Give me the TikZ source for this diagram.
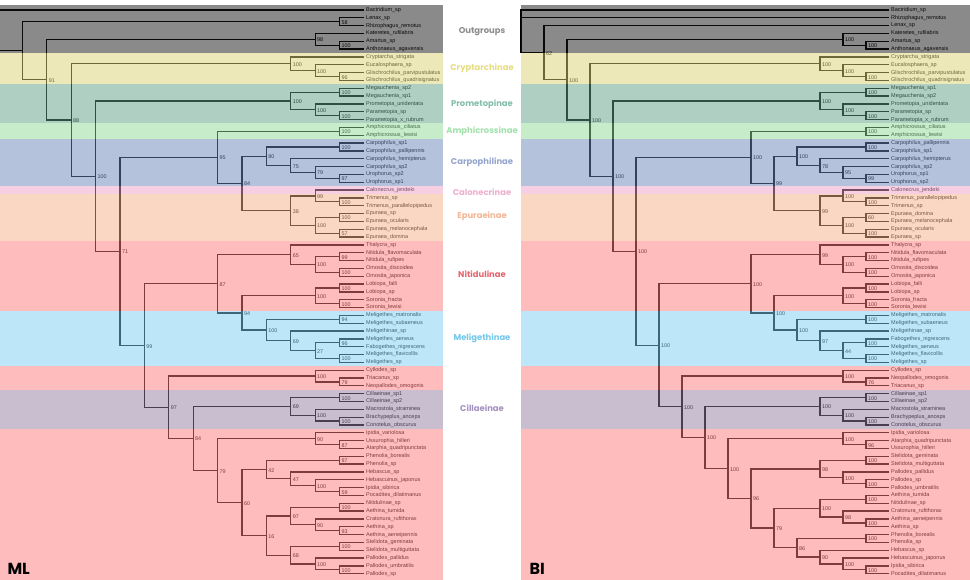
\documentclass[tikz,border=0pt]{standalone}
\usepackage{fontspec}
\setmainfont{Liberation Sans}
\newfontfamily\headfont{Poppins}
\usetikzlibrary{calc}
\definecolor{bdout}{RGB}{21,21,21}
\definecolor{bdcry}{RGB}{217,209,113}
\definecolor{bdpro}{RGB}{97,159,135}
\definecolor{bdamp}{RGB}{143,217,147}
\definecolor{bdcar}{RGB}{105,133,183}
\definecolor{bdcal}{RGB}{237,159,199}
\definecolor{bdepu}{RGB}{245,175,135}
\definecolor{bdnit}{RGB}{255,121,121}
\definecolor{bdmel}{RGB}{123,207,241}
\definecolor{bdcil}{RGB}{147,123,161}
\definecolor{lbout}{RGB}{140,140,140}
\definecolor{lbcry}{RGB}{230,220,128}
\definecolor{lbpro}{RGB}{130,190,170}
\definecolor{lbamp}{RGB}{160,225,170}
\definecolor{lbcar}{RGB}{150,165,205}
\definecolor{lbcal}{RGB}{238,175,205}
\definecolor{lbepu}{RGB}{242,182,150}
\definecolor{lbnit}{RGB}{230,100,110}
\definecolor{lbmel}{RGB}{115,200,235}
\definecolor{lbcil}{RGB}{165,145,192}
\tikzset{
  tip/.style={anchor=west, inner xsep=2pt, inner ysep=0pt,
              font=\fontsize{5.5}{6}\selectfont},
  support/.style={anchor=west, inner xsep=1.8pt, inner ysep=0pt, yshift=-0.6pt,
                  font=\fontsize{5.4}{6}\selectfont},
  branch/.style={line width=1.3pt},
  grouplbl/.style={font=\headfont\bfseries\fontsize{8.4}{9}\selectfont},
  panel/.style={anchor=west, font=\headfont\bfseries\fontsize{16}{18}\selectfont},
}
\newcommand{\treex}{364}
\newcommand{\treestep}{24.4}
\newcommand{\clade}[5]{%
  \path let \p1=(#3), \p2=(#4) in
    coordinate (#1) at ({(\treex-#2*\treestep)*1pt},{0.5*(\y1+\y2)});
  \draw[branch] (#3) -| (#1) |- (#4);
  \node[support] at (#1) {#5};
}
\newcommand{\band}[3]{%
  \fill[#1, opacity=0.5] (0,#2) rectangle (443,#3);
  \fill[#1, opacity=0.5] (521,#2) rectangle (970,#3);
}
\begin{document}
\begin{tikzpicture}[x=1pt, y=-1pt]
\useasboundingbox (0,0) rectangle (970,580);
\clip (0,0) rectangle (970,580);

% ML tree
\foreach \nm [count=\i] in {Bactridium\_sp, Lenax\_sp, Rhizophagus\_remotus,
  Kateretes\_rufilabris, Amartus\_sp, Anthonaeus\_agavensis, Cryptarcha\_strigata,
  Eucalosphaera\_sp, Glischrochilus\_parvipustulatus, Glischrochilus\_quadrisignatus,
  Megauchenia\_sp2, Megauchenia\_sp1, Prometopia\_unidentata, Parametopia\_sp,
  Parametopia\_x\_rubrum, Amphicrossus\_ciliatus, Amphicrossus\_lewisi,
  Carpophilus\_sp1, Carpophilus\_pallipennis, Carpophilus\_hemipterus,
  Carpophilus\_sp2, Urophorus\_sp2, Urophorus\_sp1, Calonecrus\_jendeki,
  Trimenus\_sp, Trimenus\_parallelopipedus, Epuraea\_sp, Epuraea\_ocularis,
  Epuraea\_melanocephala, Epuraea\_domina, Thalycra\_sp, Nitidula\_flavomaculata,
  Nitidula\_rufipes, Omosita\_discoidea, Omosita\_japonica, Lobiopa\_falli,
  Lobiopa\_sp, Soronia\_fracta, Soronia\_lewisi, Meligethes\_matronalis,
  Meligethes\_subaeneus, Meligethinae\_sp, Meligethes\_aeneus, Fabogethes\_nigrescens,
  Meligethes\_flavicollis, Meligethes\_sp, Cyllodes\_sp, Triacanus\_sp,
  Neopallodes\_omogonis, Cillaeinae\_sp1, Cillaeinae\_sp2, Macrostola\_straminea,
  Brachypeplus\_anceps, Conotelus\_obscurus, Ipidia\_variolosa, Ussurophia\_hilleri,
  Atarphia\_quadripunctata, Phenolia\_borealis, Phenolia\_sp, Hebascus\_sp,
  Hebascuinus\_japonus, Ipidia\_sibirica, Pocadites\_dilatimanus, Nitidulinae\_sp,
  Aethina\_tumida, Cratonura\_rufithorax, Aethina\_sp, Aethina\_aeneipennis,
  Stelidota\_geminata, Stelidota\_multiguttata, Pallodes\_pallidus,
  Pallodes\_umbratilis, Pallodes\_sp}
  \node[tip] (m\i) at (364,{10+(\i-1)*7.83}) {\nm};

\clade{mLen}{1}{m2.west}{m3.west}{58}
\clade{mAma}{1}{m5.west}{m6.west}{100}
\clade{mKat}{2}{m4.west}{mAma}{98}
\clade{mGli}{1}{m9.west}{m10.west}{96}
\clade{mEuc}{2}{m8.west}{mGli}{100}
\clade{mCry}{3}{m7.west}{mEuc}{100}
\clade{mMeg}{1}{m11.west}{m12.west}{100}
\clade{mPar}{1}{m14.west}{m15.west}{100}
\clade{mPrt}{2}{m13.west}{mPar}{100}
\clade{mPro}{3}{mMeg}{mPrt}{100}
\clade{mAmp}{1}{m16.west}{m17.west}{100}
\clade{mCar}{1}{m18.west}{m19.west}{100}
\clade{mUro}{1}{m22.west}{m23.west}{97}
\clade{mCsp}{2}{m21.west}{mUro}{79}
\clade{mChe}{3}{m20.west}{mCsp}{75}
\clade{mCpi}{4}{mCar}{mChe}{80}
\clade{mTri}{1}{m25.west}{m26.west}{100}
\clade{mCal}{2}{m24.west}{mTri}{99}
\clade{mEpa}{1}{m27.west}{m28.west}{100}
\clade{mEpb}{1}{m29.west}{m30.west}{57}
\clade{mEpu}{2}{mEpa}{mEpb}{100}
\clade{mCE}{3}{mCal}{mEpu}{38}
\clade{mH}{5}{mCpi}{mCE}{84}
\clade{mF}{6}{mAmp}{mH}{95}
\clade{mNit}{1}{m32.west}{m33.west}{99}
\clade{mOmo}{1}{m34.west}{m35.west}{100}
\clade{mNO}{2}{mNit}{mOmo}{100}
\clade{mTha}{3}{m31.west}{mNO}{65}
\clade{mLob}{1}{m36.west}{m37.west}{100}
\clade{mSor}{1}{m38.west}{m39.west}{100}
\clade{mLS}{2}{mLob}{mSor}{100}
\clade{mMma}{1}{m40.west}{m41.west}{94}
\clade{mMae}{1}{m43.west}{m44.west}{96}
\clade{mMfl}{1}{m45.west}{m46.west}{100}
\clade{mMaf}{2}{mMae}{mMfl}{27}
\clade{mMsp}{3}{m42.west}{mMaf}{69}
\clade{mMel}{4}{mMma}{mMsp}{100}
\clade{mM}{5}{mLS}{mMel}{94}
\clade{mK}{6}{mTha}{mM}{87}
\clade{mTrc}{1}{m48.west}{m49.west}{79}
\clade{mCyl}{2}{m47.west}{mTrc}{100}
\clade{mCil}{1}{m50.west}{m51.west}{100}
\clade{mBra}{1}{m53.west}{m54.west}{100}
\clade{mMac}{2}{m52.west}{mBra}{100}
\clade{mCll}{3}{mCil}{mMac}{69}
\clade{mUss}{1}{m56.west}{m57.west}{87}
\clade{mIpv}{2}{m55.west}{mUss}{90}
\clade{mPhe}{1}{m58.west}{m59.west}{97}
\clade{mIps}{1}{m62.west}{m63.west}{59}
\clade{mHja}{2}{m61.west}{mIps}{100}
\clade{mHeb}{3}{m60.west}{mHja}{47}
\clade{mQ}{4}{mPhe}{mHeb}{42}
\clade{mAet}{1}{m64.west}{m65.west}{100}
\clade{mAsp}{1}{m67.west}{m68.west}{93}
\clade{mCra}{2}{m66.west}{mAsp}{90}
\clade{mAcr}{3}{mAet}{mCra}{97}
\clade{mSte}{1}{m69.west}{m70.west}{100}
\clade{mPal}{1}{m72.west}{m73.west}{100}
\clade{mPpa}{2}{m71.west}{mPal}{100}
\clade{mSpa}{3}{mSte}{mPpa}{68}
\clade{mR}{4}{mAcr}{mSpa}{16}
\clade{mP}{5}{mQ}{mR}{60}
\clade{mO}{6}{mIpv}{mP}{79}
\clade{mN}{7}{mCll}{mO}{84}
\clade{mL}{8}{mCyl}{mN}{97}
\clade{mG}{9}{mK}{mL}{99}
\clade{mE}{10}{mF}{mG}{71}
\clade{mD}{11}{mPro}{mE}{100}
\clade{mC}{12}{mCry}{mD}{88}
\clade{mB}{13}{mKat}{mC}{91}
\clade{mA}{14}{mLen}{mB}{}
\clade{mRoot}{15}{m1.west}{mA}{}

% BI tree
\renewcommand{\treex}{889}
\renewcommand{\treestep}{23}
\foreach \nm [count=\i] in {Bactridium\_sp, Rhizophagus\_remotus, Lenax\_sp,
  Kateretes\_rufilabris, Amartus\_sp, Anthonaeus\_agavensis, Cryptarcha\_strigata,
  Eucalosphaera\_sp, Glischrochilus\_parvipustulatus, Glischrochilus\_quadrisignatus,
  Megauchenia\_sp1, Megauchenia\_sp2, Prometopia\_unidentata, Parametopia\_sp,
  Parametopia\_x\_rubrum, Amphicrossus\_ciliatus, Amphicrossus\_lewisi,
  Carpophilus\_pallipennis, Carpophilus\_sp1, Carpophilus\_hemipterus,
  Carpophilus\_sp2, Urophorus\_sp1, Urophorus\_sp2, Calonecrus\_jendeki,
  Trimenus\_parallelopipedus, Trimenus\_sp, Epuraea\_domina, Epuraea\_melanocephala,
  Epuraea\_ocularis, Epuraea\_sp, Thalycra\_sp, Nitidula\_flavomaculata,
  Nitidula\_rufipes, Omosita\_discoidea, Omosita\_japonica, Lobiopa\_falli,
  Lobiopa\_sp, Soronia\_fracta, Soronia\_lewisi, Meligethes\_matronalis,
  Meligethes\_subaeneus, Meligethinae\_sp, Fabogethes\_nigrescens, Meligethes\_aeneus,
  Meligethes\_flavicollis, Meligethes\_sp, Cyllodes\_sp, Neopallodes\_omogonis,
  Triacanus\_sp, Cillaeinae\_sp1, Cillaeinae\_sp2, Macrostola\_straminea,
  Brachypeplus\_anceps, Conotelus\_obscurus, Ipidia\_variolosa,
  Atarphia\_quadripunctata, Ussurophia\_hilleri, Stelidota\_geminata,
  Stelidota\_multiguttata, Pallodes\_pallidus, Pallodes\_sp, Pallodes\_umbratilis,
  Aethina\_tumida, Nitidulinae\_sp, Cratonura\_rufithorax, Aethina\_aeneipennis,
  Aethina\_sp, Phenolia\_borealis, Phenolia\_sp, Hebascus\_sp, Hebascuinus\_japonus,
  Ipidia\_sibirica, Pocadites\_dilatimanus}
  \node[tip] (b\i) at (889,{10+(\i-1)*7.83}) {\nm};

\clade{bAma}{1}{b5.west}{b6.west}{100}
\clade{bKat}{2}{b4.west}{bAma}{100}
\clade{bGli}{1}{b9.west}{b10.west}{100}
\clade{bEuc}{2}{b8.west}{bGli}{100}
\clade{bCry}{3}{b7.west}{bEuc}{100}
\clade{bMeg}{1}{b11.west}{b12.west}{100}
\clade{bPar}{1}{b14.west}{b15.west}{100}
\clade{bPrt}{2}{b13.west}{bPar}{100}
\clade{bPro}{3}{bMeg}{bPrt}{100}
\clade{bAmp}{1}{b16.west}{b17.west}{100}
\clade{bCar}{1}{b18.west}{b19.west}{100}
\clade{bUro}{1}{b22.west}{b23.west}{99}
\clade{bCsp}{2}{b21.west}{bUro}{95}
\clade{bChe}{3}{b20.west}{bCsp}{78}
\clade{bCpi}{4}{bCar}{bChe}{100}
\clade{bTri}{1}{b25.west}{b26.west}{100}
\clade{bCal}{2}{b24.west}{bTri}{100}
\clade{bEpa}{1}{b27.west}{b28.west}{60}
\clade{bEpb}{1}{b29.west}{b30.west}{100}
\clade{bEpu}{2}{bEpa}{bEpb}{100}
\clade{bCE}{3}{bCal}{bEpu}{99}
\clade{bH}{5}{bCpi}{bCE}{99}
\clade{bF}{6}{bAmp}{bH}{100}
\clade{bNit}{1}{b32.west}{b33.west}{100}
\clade{bOmo}{1}{b34.west}{b35.west}{100}
\clade{bNO}{2}{bNit}{bOmo}{100}
\clade{bTha}{3}{b31.west}{bNO}{99}
\clade{bLob}{1}{b36.west}{b37.west}{100}
\clade{bSor}{1}{b38.west}{b39.west}{100}
\clade{bLS}{2}{bLob}{bSor}{100}
\clade{bMma}{1}{b40.west}{b41.west}{100}
\clade{bMae}{1}{b43.west}{b44.west}{100}
\clade{bMfl}{1}{b45.west}{b46.west}{100}
\clade{bMaf}{2}{bMae}{bMfl}{44}
\clade{bMsp}{3}{b42.west}{bMaf}{97}
\clade{bMel}{4}{bMma}{bMsp}{100}
\clade{bM}{5}{bLS}{bMel}{100}
\clade{bK}{6}{bTha}{bM}{100}
\clade{bTrc}{1}{b48.west}{b49.west}{76}
\clade{bCyl}{2}{b47.west}{bTrc}{100}
\clade{bCil}{1}{b50.west}{b51.west}{100}
\clade{bBra}{1}{b53.west}{b54.west}{100}
\clade{bMac}{2}{b52.west}{bBra}{100}
\clade{bCll}{3}{bCil}{bMac}{100}
\clade{bUss}{1}{b56.west}{b57.west}{96}
\clade{bIpv}{2}{b55.west}{bUss}{100}
\clade{bSte}{1}{b58.west}{b59.west}{100}
\clade{bPal}{1}{b61.west}{b62.west}{100}
\clade{bPpa}{2}{b60.west}{bPal}{100}
\clade{bSpa}{3}{bSte}{bPpa}{98}
\clade{bAet}{1}{b63.west}{b64.west}{100}
\clade{bAsp}{1}{b66.west}{b67.west}{100}
\clade{bCra}{2}{b65.west}{bAsp}{98}
\clade{bR}{3}{bAet}{bCra}{100}
\clade{bPhe}{1}{b68.west}{b69.west}{100}
\clade{bIps}{1}{b72.west}{b73.west}{100}
\clade{bHja}{2}{b71.west}{bIps}{100}
\clade{bHeb}{3}{b70.west}{bHja}{90}
\clade{bS}{4}{bPhe}{bHeb}{86}
\clade{bQ}{5}{bR}{bS}{79}
\clade{bP}{6}{bSpa}{bQ}{96}
\clade{bO}{7}{bIpv}{bP}{100}
\clade{bN}{8}{bCll}{bO}{100}
\clade{bL}{9}{bCyl}{bN}{100}
\clade{bG}{10}{bK}{bL}{100}
\clade{bE}{11}{bF}{bG}{100}
\clade{bD}{12}{bPro}{bE}{100}
\clade{bC}{13}{bCry}{bD}{100}
\clade{bB}{14}{bKat}{bC}{100}
\clade{bA}{15}{b3.west}{bB}{62}
\clade{bRoot}{16}{b1.west}{bA}{}
\draw[branch] (b2.west) -| (bRoot);

% subfamily bands
\band{bdout}{5}{53.1}
\band{bdcry}{53.1}{84.4}
\band{bdpro}{84.4}{123.5}
\band{bdamp}{123.5}{139.2}
\band{bdcar}{139.2}{186.2}
\band{bdcal}{186.2}{194}
\band{bdepu}{194}{241}
\band{bdnit}{241}{311.5}
\band{bdmel}{311.5}{366.3}
\band{bdnit}{366.3}{389.8}
\band{bdcil}{389.8}{428.9}
\band{bdnit}{428.9}{580}

\node[grouplbl, lbout] (gout) at (482,32) {Outgroups};
\node[grouplbl, lbcry] (gcry) at (482,68) {Cryptarchinae};
\node[grouplbl, lbpro] (gpro) at (482,104) {Prometopinae};
\node[grouplbl, lbamp] (gamp) at (482,131) {Amphicrossinae};
\node[grouplbl, lbcar] (gcar) at (482,162) {Carpophilinae};
\node[grouplbl, lbcal] (gcal) at (482,192) {Calonecrinae};
\node[grouplbl, lbepu] (gepu) at (482,216) {Epuraeinae};
\node[grouplbl, lbnit] (gnit) at (482,274) {Nitidulinae};
\node[grouplbl, lbmel] (gmel) at (482,338) {Meligethinae};
\node[grouplbl, lbcil] (gcil) at (482,408) {Cillaeinae};

\node[panel] (ml) at (4,569) {ML};
\node[panel] (bi) at (526,569) {BI};
\end{tikzpicture}
\end{document}
